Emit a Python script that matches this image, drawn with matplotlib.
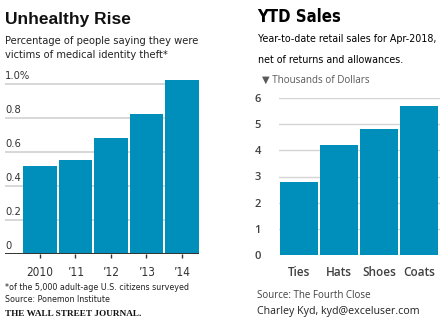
import matplotlib
matplotlib.use('Agg')
import matplotlib.pyplot as plt
import matplotlib.transforms as mtransforms

# left chart data
years = ['2010', '\u201911', '\u201912', '\u201913', '\u201914']
pct_victims = [0.52, 0.55, 0.68, 0.82, 1.02]
pct_ticks = [0, 0.2, 0.4, 0.6, 0.8, 1.0]
pct_labels = ['0', '0.2', '0.4', '0.6', '0.8', '1.0%']

# right chart data
products = ['Ties', 'Hats', 'Shoes', 'Coats']
ytd_sales = [2.8, 4.2, 4.8, 5.7]
sales_ticks = [0, 1, 2, 3, 4, 5, 6]

W, H = 448, 322
BAR = '#008fbb'
GRID = '#d4d4d4'
# condensed face for the narrow newspaper-style texts
NARROW = dict(family='DejaVu Sans', fontstretch='condensed')


def box(x0, y0, x1, y1):
    # pixel box (top-left origin) -> figure fraction
    return [x0 / W, 1 - y1 / H, (x1 - x0) / W, (y1 - y0) / H]


def txt(x, y, s, **kw):
    kw.setdefault('va', 'baseline')
    fig.text(x / W, 1 - y / H, s, **kw)


fig = plt.figure(figsize=(W / 100, H / 100), dpi=100)

# ---- left: Unhealthy Rise ----
ax1 = fig.add_axes(box(5, 77, 199, 254))
ax1.set_xlim(-0.986, 4.48)
ax1.set_ylim(0, 1.04)
for v in pct_ticks[1:]:
    ax1.axhline(v, color=GRID, lw=1.3, zorder=0)
ax1.bar(range(len(years)), pct_victims, width=0.95, color=BAR,
        zorder=2, clip_on=False)
ax1.axhline(0, color='#333333', lw=1.4, zorder=3)
trans = mtransforms.blended_transform_factory(ax1.transAxes, ax1.transData)
for v, lab in zip(pct_ticks, pct_labels):
    ax1.text(0, v + 0.015, lab, transform=trans, ha='left', va='bottom',
             fontsize=8, color='#333333', **NARROW)
ax1.set_yticks([])
ax1.set_xticks(range(len(years)))
ax1.set_xticklabels(years, fontsize=8.5, color='#333333', **NARROW)
ax1.tick_params(axis='x', length=3, width=1, color='#333333', pad=6)
for s in ax1.spines.values():
    s.set_visible(False)

txt(5, 24, 'Unhealthy Rise', fontsize=12.5, fontweight='bold',
    family='Liberation Sans', color='#111111')
txt(5, 44, 'Percentage of people saying they were', fontsize=7.9,
    color='#222222', **NARROW)
txt(5, 58, 'victims of medical identity theft*', fontsize=7.9,
    color='#222222', **NARROW)
txt(5, 290, '*of the 5,000 adult-age U.S. citizens surveyed', fontsize=6.4,
    color='#222222', **NARROW)
txt(5, 302, 'Source: Ponemon Institute', fontsize=6.4,
    color='#222222', **NARROW)
txt(5, 316, 'THE WALL STREET JOURNAL.', fontsize=6.7, fontweight='bold',
    family='Liberation Serif', color='#111111')

# ---- right: YTD Sales ----
ax2 = fig.add_axes(box(279, 98, 440, 255))
ax2.set_xlim(-0.5, 3.525)
ax2.set_ylim(0, 6)
for v in sales_ticks[1:]:
    ax2.axhline(v, color=GRID, lw=1.0, zorder=0)
ax2.bar(range(len(products)), ytd_sales, width=0.95, color=BAR, zorder=2)
ax2.set_yticks(sales_ticks)
ax2.set_yticklabels([str(v) for v in sales_ticks], family='Open Sans',
                    fontsize=8, fontweight='semibold', color='#404040')
ax2.set_xticks(range(len(products)))
ax2.set_xticklabels(products, family='Open Sans', fontsize=8.5,
                    fontweight='semibold', color='#404040')
ax2.tick_params(axis='y', length=0, pad=13)
ax2.tick_params(axis='x', length=0, pad=8)
for s in ax2.spines.values():
    s.set_visible(False)

txt(257, 22, 'YTD Sales', fontsize=12, fontweight='bold', color='#000000',
    **NARROW)
txt(258, 42, 'Year-to-date retail sales for Apr-2018,', fontsize=7.7,
    color='#000000', **NARROW)
txt(258, 63, 'net of returns and allowances.', fontsize=7.7,
    color='#000000', **NARROW)
txt(262, 83, '\u25bc Thousands of Dollars', fontsize=7.1,
    family=['Open Sans', 'DejaVu Sans'], color='#595959')
txt(257, 298, 'Source: The Fourth Close', fontsize=7, family='Open Sans',
    color='#404040')
txt(257, 314, 'Charley Kyd, kyd@exceluser.com', fontsize=7.7,
    family='Open Sans', color='#222222')

fig.savefig('out.png', dpi=100)
